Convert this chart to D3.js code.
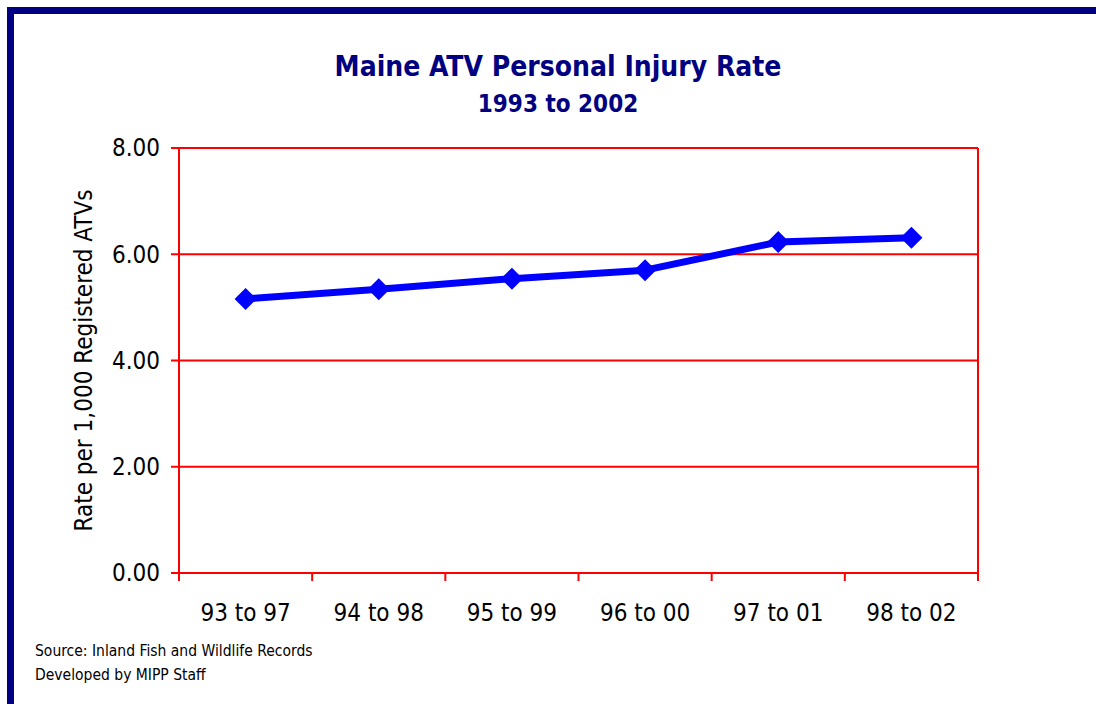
<!DOCTYPE html>
<html>
<head>
  <title>Maine ATV Personal Injury Rate</title>
  <style>
    body { margin: 0; background: #fff; }
    svg text { font-family: "DejaVu Sans Condensed", "DejaVu Sans", sans-serif; }
  </style>
</head>
<body>
  <svg id="chart" width="1096" height="704"></svg>

  <script src="https://d3js.org/d3.v7.min.js"></script>
  <script>
    // Chart data
    const periods = ["93 to 97", "94 to 98", "95 to 99", "96 to 00", "97 to 01", "98 to 02"];
    const rates = [5.16, 5.34, 5.54, 5.70, 6.23, 6.31];
    const yTicks = [0, 2, 4, 6, 8];

    const svg = d3.select("#chart");
    const plotLeft = 179, plotRight = 978, plotTop = 148, plotBottom = 573;

    // Frame (top and left edges only)
    svg.append("rect").attr("x", 7).attr("y", 7).attr("width", 1089).attr("height", 7).attr("fill", "#000080");
    svg.append("rect").attr("x", 7).attr("y", 7).attr("width", 7).attr("height", 697).attr("fill", "#000080");

    // Titles
    svg.append("text")
      .attr("x", 558).attr("y", 76)
      .attr("text-anchor", "middle")
      .attr("font-size", 28).attr("font-weight", "bold")
      .attr("fill", "#000080")
      .text("Maine ATV Personal Injury Rate");
    svg.append("text")
      .attr("x", 558).attr("y", 112)
      .attr("text-anchor", "middle")
      .attr("font-size", 24).attr("font-weight", "bold")
      .attr("fill", "#000080")
      .text("1993 to 2002");

    // Scales
    const x = d3.scaleBand().domain(periods).range([plotLeft, plotRight]);
    const y = d3.scaleLinear().domain([0, 8]).range([plotBottom, plotTop]);

    // Gridlines
    svg.append("g")
      .selectAll("line")
      .data(yTicks)
      .join("line")
      .attr("x1", plotLeft - 8).attr("x2", plotRight)
      .attr("y1", d => y(d)).attr("y2", d => y(d))
      .attr("stroke", "#ff0000").attr("stroke-width", 2);

    // Y axis labels
    svg.append("g")
      .selectAll("text")
      .data(yTicks)
      .join("text")
      .attr("x", plotLeft - 19).attr("y", d => y(d))
      .attr("dy", "0.35em")
      .attr("text-anchor", "end")
      .attr("font-size", 24)
      .text(d => d.toFixed(2));

    // Plot border left/right
    svg.append("line").attr("x1", plotLeft).attr("x2", plotLeft).attr("y1", plotTop).attr("y2", plotBottom + 8)
      .attr("stroke", "#ff0000").attr("stroke-width", 2);
    svg.append("line").attr("x1", plotRight).attr("x2", plotRight).attr("y1", plotTop).attr("y2", plotBottom + 8)
      .attr("stroke", "#ff0000").attr("stroke-width", 2);

    // X axis tick marks between categories
    const boundaries = periods.map(p => x(p)).concat([plotRight]);
    svg.append("g")
      .selectAll("line")
      .data(boundaries)
      .join("line")
      .attr("x1", d => d).attr("x2", d => d)
      .attr("y1", plotBottom).attr("y2", plotBottom + 8)
      .attr("stroke", "#ff0000").attr("stroke-width", 2);

    // X axis labels
    svg.append("g")
      .selectAll("text")
      .data(periods)
      .join("text")
      .attr("x", d => x(d) + x.bandwidth() / 2)
      .attr("y", 621)
      .attr("text-anchor", "middle")
      .attr("font-size", 24)
      .text(d => d);

    // Y axis title
    svg.append("text")
      .attr("transform", `translate(92, ${(plotTop + plotBottom) / 2}) rotate(-90)`)
      .attr("text-anchor", "middle")
      .attr("font-size", 24)
      .text("Rate per 1,000 Registered ATVs");

    // Line
    const pts = periods.map((p, i) => [x(p) + x.bandwidth() / 2, y(rates[i])]);
    svg.append("path")
      .attr("d", d3.line()(pts))
      .attr("fill", "none")
      .attr("stroke", "#0000ff")
      .attr("stroke-width", 7)
      .attr("stroke-linejoin", "round");

    // Diamond markers
    svg.append("g")
      .selectAll("path")
      .data(pts)
      .join("path")
      .attr("transform", d => `translate(${d[0]},${d[1]})`)
      .attr("d", "M0,-11L11,0L0,11L-11,0Z")
      .attr("fill", "#0000ff");

    // Footer
    svg.append("text").attr("x", 35).attr("y", 656).attr("font-size", 15.5).text("Source: Inland Fish and Wildlife Records");
    svg.append("text").attr("x", 35).attr("y", 680).attr("font-size", 15.5).text("Developed by MIPP Staff");
  </script>
</body>
</html>
